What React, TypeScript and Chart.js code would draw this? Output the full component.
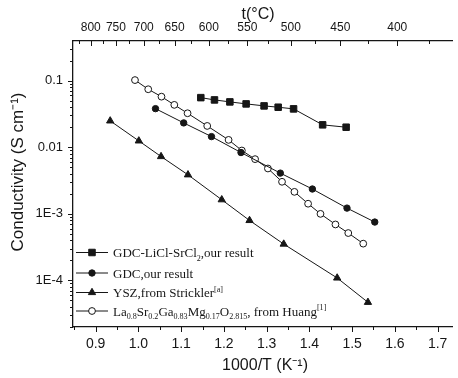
import React, { useEffect, useRef } from 'react';
import { Chart, registerables } from 'chart.js';
import { drawPoint } from 'chart.js/helpers';

Chart.register(...registerables);

// ---- data (1000/T in K^-1, conductivity in S cm^-1) ----
const lisrX = [1.146, 1.178, 1.214, 1.252, 1.294, 1.327, 1.363, 1.431, 1.486];
const lisrY = [0.0556, 0.0514, 0.048, 0.0448, 0.0418, 0.0399, 0.0377, 0.0217, 0.02];
const gdcX = [1.04, 1.106, 1.171, 1.24, 1.332, 1.407, 1.488, 1.553];
const gdcY = [0.038, 0.0232, 0.01446, 0.00833, 0.00409, 0.00236, 0.00122, 0.000753];
const yszX = [0.934, 1.001, 1.053, 1.116, 1.195, 1.26, 1.34, 1.465, 1.537];
const yszY = [0.0249, 0.01247, 0.00726, 0.00386, 0.00163, 0.000796, 0.000352, 0.000109, 0.000047];
const lsgmX = [0.992, 1.023, 1.054, 1.084, 1.115, 1.161, 1.211, 1.242, 1.273, 1.303, 1.336, 1.365, 1.397, 1.426, 1.461, 1.491, 1.526];
const lsgmY = [0.102, 0.0743, 0.0575, 0.0433, 0.0324, 0.0209, 0.0129, 0.00894, 0.00663, 0.0048, 0.00303, 0.00214, 0.00142, 0.001, 0.000693, 0.000515, 0.000357];

// ---- axes ----
const xTickValues = [0.9, 1.0, 1.1, 1.2, 1.3, 1.4, 1.5, 1.6, 1.7];
const xTickLabels = ['0.9', '1.0', '1.1', '1.2', '1.3', '1.4', '1.5', '1.6', '1.7'];
const xMinorValues = [0.85, 0.95, 1.05, 1.15, 1.25, 1.35, 1.45, 1.55, 1.65];
const yTickValues = [0.1, 0.01, 0.001, 0.0001];
const yTickLabels = ['0.1', '0.01', '1E-3', '1E-4'];
const tempTicks = [800, 750, 700, 650, 600, 550, 500, 450, 400];
const tempMinor = [825, 775, 725, 675, 625, 575, 525, 475, 425, 375];

const X_MIN = 0.847;
const X_MAX = 1.7346;
const TOP_MIN = 0.8999;
const TOP_MAX = 1.5856;
const Y_MIN = 2e-5;
const Y_MAX = 0.394;

const invT = (t: number) => 1000 / (t + 273);

// ---- legend ----
type Seg = [string, 'n' | 'sub' | 'sup'];
const legendLabels: Seg[][] = [
  [['GDC-LiCl-SrCl', 'n'], ['2', 'sub'], [',our result', 'n']],
  [['GDC,our result', 'n']],
  [['YSZ,from Strickler', 'n'], ['[a]', 'sup']],
  [['La', 'n'], ['0.8', 'sub'], ['Sr', 'n'], ['0.2', 'sub'], ['Ga', 'n'], ['0.83', 'sub'], ['Mg', 'n'], ['0.17', 'sub'], ['O', 'n'], ['2.815', 'sub'], [', from Huang', 'n'], ['[1]', 'sup']],
];

const INK = '#161616';

function drawRich(ctx: CanvasRenderingContext2D, parts: Seg[], x: number, y: number, size: number) {
  let cx = x;
  for (const [text, mode] of parts) {
    const s = mode === 'n' ? size : size * 0.62;
    ctx.font = `${s}px "Liberation Serif", serif`;
    const dy = mode === 'sub' ? size * 0.28 : mode === 'sup' ? -size * 0.42 : 0;
    ctx.fillText(text, cx, y + dy);
    cx += ctx.measureText(text).width;
  }
}

const decorPlugin = {
  id: 'decor',
  afterDraw(chart: any) {
    const ctx: CanvasRenderingContext2D = chart.ctx;
    const { left, right, top, bottom } = chart.chartArea;
    const xs = chart.scales.x;
    const ys = chart.scales.y;
    const xt = chart.scales.xTop;
    ctx.save();
    ctx.strokeStyle = INK;
    ctx.lineWidth = 1;
    const line = (x1: number, y1: number, x2: number, y2: number) => {
      ctx.beginPath();
      ctx.moveTo(x1, y1);
      ctx.lineTo(x2, y2);
      ctx.stroke();
    };
    // bottom ticks (outward)
    [...xTickValues, ...xMinorValues].forEach((v, i) => {
      const p = Math.round(xs.getPixelForValue(v)) + 0.5;
      if (p < left - 0.5 || p > right) return;
      const major = i < xTickValues.length;
      line(p, bottom, p, bottom + (major ? 5 : 3));
    });
    // left ticks (outward)
    for (let d = -5; d <= 0; d++) {
      for (let k = 1; k <= 9; k++) {
        const v = k * Math.pow(10, d);
        if (v < Y_MIN || v > Y_MAX) continue;
        const p = Math.round(ys.getPixelForValue(v)) + 0.5;
        line(left, p, left - (k === 1 ? 5 : 3), p);
      }
    }
    // top ticks (inward)
    [...tempTicks, ...tempMinor].forEach((t, i) => {
      const p = Math.round(xt.getPixelForValue(invT(t))) + 0.5;
      if (p < left || p > right) return;
      const major = i < tempTicks.length;
      line(p, top, p, top + (major ? 5 : 3));
    });

    // titles
    ctx.fillStyle = INK;
    ctx.textAlign = 'center';
    ctx.textBaseline = 'middle';
    ctx.font = '16px "Liberation Sans", Arial, sans-serif';
    ctx.fillText('1000/T (K\u207B\u00B9)', 265, 366);
    ctx.fillText('t(\u00B0C)', 258, 15);
    ctx.save();
    ctx.translate(18, 172);
    ctx.rotate(-Math.PI / 2);
    ctx.font = '17px "Liberation Sans", Arial, sans-serif';
    ctx.fillText('Conductivity (S cm\u207B\u00B9)', 0, 0);
    ctx.restore();

    // legend
    const rowY = [252.5, 273, 292.5, 311];
    chart.data.datasets.forEach((ds: any, i: number) => {
      const y = rowY[i];
      ctx.strokeStyle = INK;
      ctx.lineWidth = 1;
      line(76, y, 108, y);
      ctx.fillStyle = ds.pointBackgroundColor;
      ctx.strokeStyle = ds.pointBorderColor;
      ctx.lineWidth = 1;
      drawPoint(ctx, { pointStyle: ds.pointStyle, radius: ds.pointRadius, rotation: 0, borderWidth: 1 } as any, 92, y);
      ctx.fillStyle = INK;
      ctx.textAlign = 'left';
      ctx.textBaseline = 'alphabetic';
      drawRich(ctx, legendLabels[i], 113, y + 4.5, 13);
    });
    ctx.restore();
  },
};

export default function App() {
  const ref = useRef<HTMLCanvasElement>(null);
  useEffect(() => {
    if (!ref.current) return;
    const mk = (xs: number[], ys: number[]) => xs.map((x, i) => ({ x, y: ys[i] }));
    const common = {
      showLine: true,
      borderColor: INK,
      borderWidth: 1,
      pointBorderColor: INK,
      pointBorderWidth: 1,
    };
    const chart = new Chart(ref.current, {
      type: 'scatter',
      data: {
        datasets: [
          { ...common, label: 'GDC-LiCl-SrCl2', data: mk(lisrX, lisrY), pointStyle: 'rect', pointRadius: 4.6, pointBackgroundColor: INK },
          { ...common, label: 'GDC', data: mk(gdcX, gdcY), pointStyle: 'circle', pointRadius: 3.2, pointBackgroundColor: INK },
          { ...common, label: 'YSZ', data: mk(yszX, yszY), pointStyle: 'triangle', pointRadius: 4.2, pointBackgroundColor: INK },
          { ...common, label: 'LSGM', data: mk(lsgmX, lsgmY), pointStyle: 'circle', pointRadius: 3.4, pointBackgroundColor: '#ffffff' },
        ] as any,
      },
      options: {
        animation: false,
        responsive: false,
        layout: { padding: 0 },
        plugins: { legend: { display: false }, tooltip: { enabled: false } },
        scales: {
          x: {
            type: 'linear',
            position: 'bottom',
            min: X_MIN,
            max: X_MAX,
            grid: { display: false, drawTicks: false },
            border: { display: true, color: INK, width: 1.3 },
            afterBuildTicks: (s: any) => { s.ticks = xTickValues.map((v) => ({ value: v })); },
            afterFit: (s: any) => { s.height = 51; },
            ticks: {
              padding: 9,
              color: INK,
              font: { family: '"Liberation Sans", Arial, sans-serif', size: 14 },
              callback: (v: any) => { const i = xTickValues.findIndex((t) => Math.abs(t - v) < 1e-6); return i >= 0 ? xTickLabels[i] : ''; },
            },
          },
          xTop: {
            type: 'linear',
            position: 'top',
            min: TOP_MIN,
            max: TOP_MAX,
            grid: { display: false, drawTicks: false },
            border: { display: true, color: INK, width: 1.3 },
            afterBuildTicks: (s: any) => { s.ticks = tempTicks.map((t) => ({ value: invT(t) })); },
            afterFit: (s: any) => { s.height = 41; },
            ticks: {
              padding: 6,
              color: INK,
              font: { family: '"Liberation Sans", Arial, sans-serif', size: 12 },
              callback: (v: any) => { const i = tempTicks.findIndex((t) => Math.abs(invT(t) - v) < 1e-6); return i >= 0 ? String(tempTicks[i]) : ''; },
            },
          },
          y: {
            type: 'logarithmic',
            position: 'left',
            min: Y_MIN,
            max: Y_MAX,
            grid: { display: false, drawTicks: false },
            border: { display: true, color: INK, width: 1.3 },
            afterBuildTicks: (s: any) => { s.ticks = yTickValues.map((v) => ({ value: v })); },
            afterFit: (s: any) => { s.width = 73; },
            ticks: {
              padding: 10,
              color: INK,
              font: { family: '"Liberation Sans", Arial, sans-serif', size: 13 },
              callback: (v: any) => { const i = yTickValues.findIndex((t) => Math.abs(Math.log10(t) - Math.log10(v)) < 1e-6); return i >= 0 ? yTickLabels[i] : ''; },
            },
          },
        },
      } as any,
      plugins: [decorPlugin],
    });
    return () => chart.destroy();
  }, []);
  return (
    <div style={{ position: 'absolute', left: 0, top: 0, width: 458, height: 378, background: '#fff', overflow: 'hidden' }}>
      <canvas ref={ref} width={458} height={378} style={{ display: 'block', width: 458, height: 378 }} />
    </div>
  );
}
